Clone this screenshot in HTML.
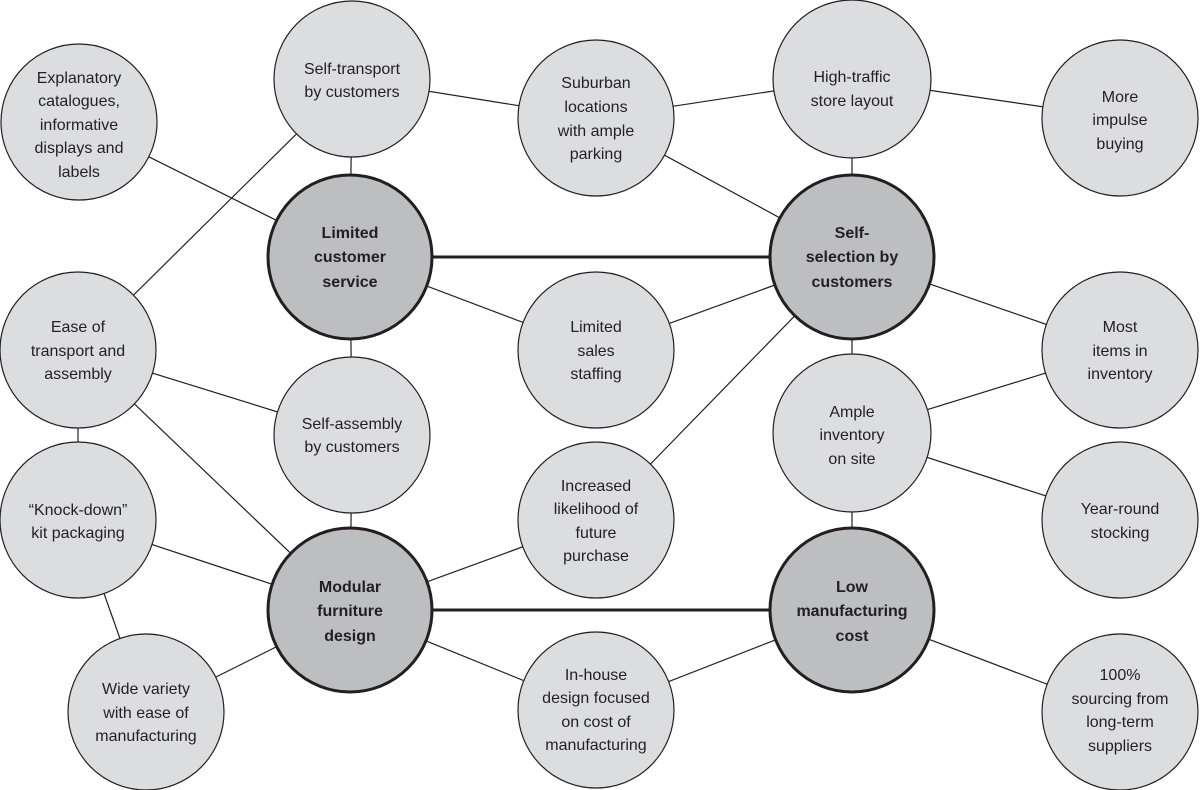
<!DOCTYPE html>
<html><head><meta charset="utf-8"><style>
html,body{margin:0;padding:0;background:#fff;}
svg{display:block;}
text{font-family:"Liberation Sans","DejaVu Sans",sans-serif;font-size:16px;fill:#231f20;text-anchor:middle;}
.d text{font-weight:bold;}
</style></head><body>
<svg width="1200" height="790" viewBox="0 0 1200 790" xmlns="http://www.w3.org/2000/svg">
<g stroke="#231f20" stroke-width="1.2">
<line x1="79" y1="122" x2="350" y2="257"/>
<line x1="352" y1="79" x2="596" y2="118"/>
<line x1="596" y1="118" x2="852" y2="79"/>
<line x1="852" y1="79" x2="1120" y2="118"/>
<line x1="596" y1="118" x2="852" y2="257"/>
<line x1="852" y1="79" x2="852" y2="257"/>
<line x1="352" y1="79" x2="350" y2="257"/>
<line x1="350" y1="257" x2="596" y2="350"/>
<line x1="596" y1="350" x2="852" y2="257"/>
<line x1="852" y1="257" x2="1120" y2="350"/>
<line x1="852" y1="257" x2="852" y2="433"/>
<line x1="852" y1="433" x2="1120" y2="350"/>
<line x1="852" y1="433" x2="1120" y2="520"/>
<line x1="852" y1="433" x2="852" y2="610"/>
<line x1="78" y1="350" x2="352" y2="79"/>
<line x1="78" y1="350" x2="352" y2="435"/>
<line x1="78" y1="350" x2="350" y2="610"/>
<line x1="78" y1="350" x2="78" y2="520"/>
<line x1="350" y1="257" x2="352" y2="435"/>
<line x1="352" y1="435" x2="350" y2="610"/>
<line x1="78" y1="520" x2="350" y2="610"/>
<line x1="78" y1="520" x2="146" y2="712"/>
<line x1="146" y1="712" x2="350" y2="610"/>
<line x1="350" y1="610" x2="596" y2="520"/>
<line x1="596" y1="520" x2="852" y2="257"/>
<line x1="350" y1="610" x2="596" y2="710"/>
<line x1="596" y1="710" x2="852" y2="610"/>
<line x1="852" y1="610" x2="1120" y2="712"/>
</g>
<g stroke="#231f20" stroke-width="3">
<line x1="350" y1="257" x2="852" y2="257"/>
<line x1="350" y1="610" x2="852" y2="610"/>
</g>
<g fill="#dcdddf" stroke="#231f20" stroke-width="1.2">
<circle cx="79" cy="122" r="78"/>
<circle cx="352" cy="79" r="78"/>
<circle cx="596" cy="118" r="78"/>
<circle cx="852" cy="79" r="79"/>
<circle cx="1120" cy="118" r="78"/>
<circle cx="78" cy="350" r="78"/>
<circle cx="596" cy="350" r="78"/>
<circle cx="1120" cy="350" r="78"/>
<circle cx="352" cy="435" r="78"/>
<circle cx="852" cy="433" r="79"/>
<circle cx="78" cy="520" r="78"/>
<circle cx="596" cy="520" r="78"/>
<circle cx="1120" cy="520" r="78"/>
<circle cx="146" cy="712" r="78"/>
<circle cx="596" cy="710" r="78"/>
<circle cx="1120" cy="712" r="78"/>
</g>
<g fill="#bdbec0" stroke="#231f20" stroke-width="3">
<circle cx="350" cy="257" r="82"/>
<circle cx="852" cy="257" r="82"/>
<circle cx="350" cy="610" r="82"/>
<circle cx="852" cy="610" r="82"/>
</g>
<g>
<text x="79" y="83">Explanatory</text><text x="79" y="106">catalogues,</text><text x="79" y="130">informative</text><text x="79" y="153">displays and</text><text x="79" y="177">labels</text>
<text x="352" y="74">Self-transport</text><text x="352" y="97">by customers</text>
<text x="596" y="88">Suburban</text><text x="596" y="112">locations</text><text x="596" y="136">with ample</text><text x="596" y="159">parking</text>
<text x="852" y="82">High-traffic</text><text x="852" y="106">store layout</text>
<text x="1120" y="102">More</text><text x="1120" y="125">impulse</text><text x="1120" y="149">buying</text>
<text x="78" y="332">Ease of</text><text x="78" y="356">transport and</text><text x="78" y="379">assembly</text>
<text x="596" y="332">Limited</text><text x="596" y="356">sales</text><text x="596" y="379">staffing</text>
<text x="1120" y="332">Most</text><text x="1120" y="356">items in</text><text x="1120" y="379">inventory</text>
<text x="352" y="429">Self-assembly</text><text x="352" y="452">by customers</text>
<text x="852" y="417">Ample</text><text x="852" y="440">inventory</text><text x="852" y="464">on site</text>
<text x="78" y="515">“Knock-down”</text><text x="78" y="538">kit packaging</text>
<text x="596" y="491">Increased</text><text x="596" y="514">likelihood of</text><text x="596" y="538">future</text><text x="596" y="561">purchase</text>
<text x="1120" y="514">Year-round</text><text x="1120" y="538">stocking</text>
<text x="146" y="694">Wide variety</text><text x="146" y="718">with ease of</text><text x="146" y="741">manufacturing</text>
<text x="596" y="680">In-house</text><text x="596" y="703">design focused</text><text x="596" y="727">on cost of</text><text x="596" y="750">manufacturing</text>
<text x="1120" y="680">100%</text><text x="1120" y="704">sourcing from</text><text x="1120" y="727">long-term</text><text x="1120" y="751">suppliers</text>
</g>
<g class="d">
<text x="350" y="238">Limited</text><text x="350" y="262">customer</text><text x="350" y="287">service</text>
<text x="852" y="238">Self-</text><text x="852" y="262">selection by</text><text x="852" y="287">customers</text>
<text x="350" y="592">Modular</text><text x="350" y="616">furniture</text><text x="350" y="641">design</text>
<text x="852" y="592">Low</text><text x="852" y="616">manufacturing</text><text x="852" y="641">cost</text>
</g>
</svg>
</body></html>
